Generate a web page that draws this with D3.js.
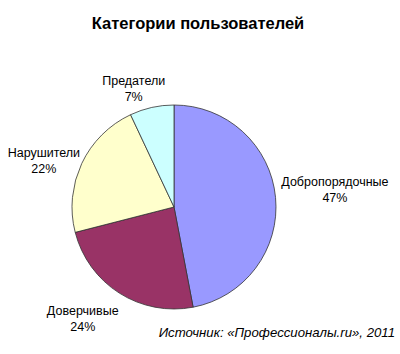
<!DOCTYPE html>
<html>
<head>
<meta charset="utf-8">
<script src="https://cdn.jsdelivr.net/npm/d3@7"></script>
<style>
  body { margin: 0; background: #fff; }
  text { font-family: "Liberation Sans", Arial, sans-serif; fill: #000; }
</style>
</head>
<body>
<svg id="pieChart"></svg>
<script>
        // Data
        const categories = ["Добропорядочные", "Доверчивые", "Нарушители", "Предатели"];
        const shares = [47, 24, 22, 7];
        const colors = ["#9999FF", "#993366", "#FFFFCC", "#CCFFFF"];
        const title = "Категории пользователей";
        const source = "Источник: «Профессионалы.ru», 2011";

        // Small hand nudges for label boxes (layout only)
        const labelNudge = [[-4, -5], [-12, 5], [4, 8], [-9, 6]];

        const width = 400, height = 354, radius = 102;
        const cx = 174, cy = 207;

        const svg = d3.select("#pieChart")
            .attr("width", width)
            .attr("height", height);

        svg.append("text")
            .attr("x", 198).attr("y", 29)
            .attr("text-anchor", "middle")
            .style("font-size", "16.5px")
            .style("font-weight", "bold")
            .text(title);

        const data = categories.map((c, i) => ({ label: c, value: shares[i] }));

        const pie = d3.pie().sort(null).value(d => d.value);
        const arc = d3.arc().innerRadius(0).outerRadius(radius);

        const g = svg.append("g").attr("transform", `translate(${cx}, ${cy})`);

        const color = d3.scaleOrdinal().domain(categories).range(colors);

        g.selectAll("path.slice")
            .data(pie(data))
            .enter().append("path")
            .attr("class", "slice")
            .attr("d", arc)
            .style("fill", d => color(d.data.label))
            .style("stroke", "#333")
            .style("stroke-width", 0.8);

        // Labels placed just outside the pie, pushed out by half the box
        const fs = 12.5, lineH = 16;
        const labels = g.selectAll("g.label")
            .data(pie(data))
            .enter().append("g")
            .attr("class", "label");

        labels.each(function (d, i) {
            const el = d3.select(this);
            const t = el.append("text").attr("text-anchor", "middle").style("font-size", fs + "px");
            t.append("tspan").attr("x", 0).attr("dy", 0).text(d.data.label);
            t.append("tspan").attr("x", 0).attr("dy", lineH).text(d.data.value + "%");
            const bb = t.node().getBBox();
            const a = (d.startAngle + d.endAngle) / 2;
            const r = radius + 10;
            const ax = Math.sin(a) * r, ay = -Math.cos(a) * r;
            const bx = ax + Math.sin(a) * bb.width / 2 + labelNudge[i][0];
            const by = ay - Math.cos(a) * bb.height / 2 + labelNudge[i][1];
            el.attr("transform", `translate(${bx}, ${by - bb.y - bb.height / 2})`);
        });

        svg.append("text")
            .attr("x", 395).attr("y", 337)
            .attr("text-anchor", "end")
            .style("font-size", "13.2px")
            .style("font-style", "italic")
            .text(source);
</script>
</body>
</html>
